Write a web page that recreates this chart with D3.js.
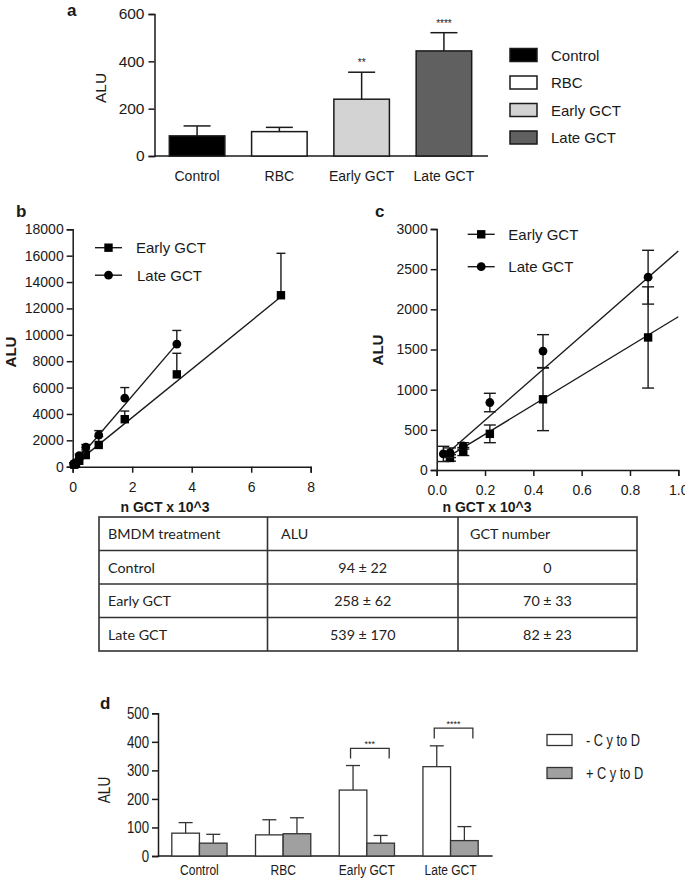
<!DOCTYPE html>
<html><head><meta charset="utf-8">
<script src="https://cdn.jsdelivr.net/npm/d3@7"></script>
<style>
body{margin:0;background:#fff;}
svg{display:block;font-family:"Liberation Sans",Arial,sans-serif;}
</style></head><body>
<svg id="chart" width="685" height="878"></svg>
<script>
// ---------- Panel a ----------
const aCategories = ["Control", "RBC", "Early GCT", "Late GCT"];
const aValues = [85, 103, 240, 444];
const aErrors = [42, 18, 114, 77];
const aColors = ["#000000", "#ffffff", "#d3d3d3", "#606060"];
const aStars = ["", "", "**", "****"];
const aTicks = [0, 200, 400, 600];

// ---------- Panels b and c ----------
const seriesNames = ["Early GCT", "Late GCT"];
const earlyX = [0.055, 0.11, 0.22, 0.44, 0.875, 1.75, 3.5, 7];
const earlyY = [150, 230, 450, 880, 1650, 3600, 7000, 13000];
const earlyErr = [40, 50, 110, 390, 630, 620, 1600, 3180];
const lateX = [0.0275, 0.055, 0.11, 0.22, 0.44, 0.875, 1.75, 3.5];
const lateY = [200, 215, 300, 840, 1480, 2400, 5200, 9300];
const lateErr = [95, 60, 40, 115, 205, 335, 800, 1030];
const fitSlopes = [1829, 2634];
const fitIntercepts = [79, 92];
const bXTicks = [0, 2, 4, 6, 8];
const bYTicks = [0, 2000, 4000, 6000, 8000, 10000, 12000, 14000, 16000, 18000];
const cXTicks = [0, 0.2, 0.4, 0.6, 0.8, 1.0];
const cYTicks = [0, 500, 1000, 1500, 2000, 2500, 3000];

// ---------- Table ----------
const tableHeader = ["BMDM treatment", "ALU", "GCT number"];
const tableRows = [
  ["Control", "94 ± 22", "0"],
  ["Early GCT", "258 ± 62", "70 ± 33"],
  ["Late GCT", "539 ± 170", "82 ± 23"]
];

// ---------- Panel d ----------
const dCategories = ["Control", "RBC", "Early GCT", "Late GCT"];
const dSeries = ["- C y to D", "+ C y to D"];
const dMinus = [80, 74, 231, 313];
const dMinusErr = [37, 53, 86, 73];
const dPlus = [45, 78, 45, 54];
const dPlusErr = [31, 56, 27, 49];
const dColors = ["#ffffff", "#a0a0a0"];
const dBracketTop = [null, null, 377, 448];
const dBracketLeg = [null, null, 342, 412];
const dStars = ["", "", "***", "****"];
const dTicks = [0, 100, 200, 300, 400, 500];

const svg = d3.select("#chart");
const ink = "#1a1a1a";
const FONT = "Liberation Sans, Arial, sans-serif";

function panelLabel(t, x, y) {
  svg.append("text").attr("x", x).attr("y", y).attr("font-weight", "bold")
    .attr("font-size", 17).attr("fill", ink).text(t);
}
// narrow (condensed) text helper
function nText(g, x, y, str, size, anchor, sx) {
  return g.append("text").attr("transform", `translate(${x},${y}) scale(${sx || 0.82},1)`)
    .attr("text-anchor", anchor || "start").attr("font-size", size).attr("fill", ink).text(str);
}

// ================= Panel a =================
{
  const y = d3.scaleLinear().domain([0, 600]).range([156, 14]);
  const x = d3.scaleBand().domain(aCategories).range([154.5, 486.5]).paddingInner(0.325).paddingOuter(0.18);
  const g = svg.append("g");
  g.append("g").attr("transform", "translate(154.5,0)")
    .call(d3.axisLeft(y).tickValues(aTicks).tickSize(6).tickPadding(4))
    .call(s => { s.select(".domain").attr("stroke", ink).attr("stroke-width", 1.5);
      s.selectAll(".tick line").attr("stroke", ink).attr("stroke-width", 1.5);
      s.selectAll("text").attr("font-size", 15.5).attr("fill", ink).attr("font-family", FONT); });
  g.append("line").attr("x1", 154.5).attr("x2", 488).attr("y1", y(0)).attr("y2", y(0)).attr("stroke", ink).attr("stroke-width", 1.5);
  aCategories.forEach((c, i) => {
    const cx = x(c) + x.bandwidth() / 2;
    g.append("line").attr("x1", cx).attr("x2", cx).attr("y1", y(aValues[i])).attr("y2", y(aValues[i] + aErrors[i])).attr("stroke", ink).attr("stroke-width", 1.5);
    g.append("line").attr("x1", cx - 13.5).attr("x2", cx + 13.5).attr("y1", y(aValues[i] + aErrors[i])).attr("y2", y(aValues[i] + aErrors[i])).attr("stroke", ink).attr("stroke-width", 1.5);
    g.append("rect").attr("x", x(c)).attr("y", y(aValues[i])).attr("width", x.bandwidth()).attr("height", y(0) - y(aValues[i]))
      .attr("fill", aColors[i]).attr("stroke", ink).attr("stroke-width", 1.5);
    if (aStars[i]) g.append("text").attr("x", cx).attr("y", y(aValues[i] + aErrors[i]) - 6).attr("text-anchor", "middle")
      .attr("font-size", 10).attr("fill", ink).text(aStars[i]);
    g.append("text").attr("x", cx).attr("y", 181).attr("text-anchor", "middle").attr("font-size", 14).attr("fill", ink).text(c);
  });
  g.append("text").attr("transform", "translate(106,88) rotate(-90)").attr("text-anchor", "middle").attr("font-size", 15.5).attr("fill", ink).text("ALU");
  aCategories.forEach((c, i) => {
    const ly = 55 + i * 27.5;
    g.append("rect").attr("x", 510).attr("y", ly - 6.5).attr("width", 27).attr("height", 13).attr("fill", aColors[i]).attr("stroke", ink).attr("stroke-width", 1.5);
    g.append("text").attr("x", 551).attr("y", ly + 5.5).attr("font-size", 15).attr("fill", ink).text(c);
  });
  panelLabel("a", 67, 16);
}

// ================= Panels b & c =================
function drawMarker(g, kind, cx, cy) {
  if (kind === 0) g.append("rect").attr("x", cx - 4.2).attr("y", cy - 4.2).attr("width", 8.4).attr("height", 8.4).attr("fill", "#000");
  else g.append("circle").attr("cx", cx).attr("cy", cy).attr("r", 4.4).attr("fill", "#000");
}
function scatterPanel(opts) {
  const { x, y, xTicks, yTicks, xFmt, bothErr, capW, xMaxLine, leg } = opts;
  const g = svg.append("g");
  const x0 = x.range()[0], y0 = y.range()[0];
  g.append("g").attr("transform", `translate(${x0},0)`)
    .call(d3.axisLeft(y).tickValues(yTicks).tickSize(6).tickPadding(3).tickFormat(d3.format("d")))
    .call(s => { s.select(".domain").attr("stroke", ink).attr("stroke-width", 1.5);
      s.selectAll(".tick line").attr("stroke", ink).attr("stroke-width", 1.5);
      s.selectAll("text").attr("font-size", 14).attr("fill", ink).attr("font-family", FONT); });
  g.append("g").attr("transform", `translate(0,${y0})`)
    .call(d3.axisBottom(x).tickValues(xTicks).tickSize(6).tickPadding(9).tickFormat(xFmt))
    .call(s => { s.select(".domain").attr("stroke", ink).attr("stroke-width", 1.5);
      s.selectAll(".tick line").attr("stroke", ink).attr("stroke-width", 1.5);
      s.selectAll("text").attr("font-size", 14).attr("fill", ink).attr("font-family", FONT); });
  const xs = [earlyX, lateX], ys = [earlyY, lateY], es = [earlyErr, lateErr];
  const xd1 = x.domain()[1], yd1 = y.domain()[1];
  [0, 1].forEach(k => {
    const xmin = d3.min(xs[k]);
    const xmax = Math.min(xMaxLine === null ? d3.max(xs[k]) : xMaxLine, xd1);
    g.append("line").attr("x1", x(xmin)).attr("y1", y(fitIntercepts[k] + fitSlopes[k] * xmin))
      .attr("x2", x(xmax)).attr("y2", y(fitIntercepts[k] + fitSlopes[k] * xmax))
      .attr("stroke", ink).attr("stroke-width", 1.4);
    xs[k].forEach((xv, i) => {
      if (xv > xd1 || ys[k][i] > yd1) return;
      const cx = x(xv), hi = ys[k][i] + es[k][i], lo = bothErr ? ys[k][i] - es[k][i] : ys[k][i];
      g.append("line").attr("x1", cx).attr("x2", cx).attr("y1", y(lo)).attr("y2", y(hi)).attr("stroke", ink).attr("stroke-width", 1.4);
      g.append("line").attr("x1", cx - capW / 2).attr("x2", cx + capW / 2).attr("y1", y(hi)).attr("y2", y(hi)).attr("stroke", ink).attr("stroke-width", 1.4);
      if (bothErr) g.append("line").attr("x1", cx - capW / 2).attr("x2", cx + capW / 2).attr("y1", y(lo)).attr("y2", y(lo)).attr("stroke", ink).attr("stroke-width", 1.4);
      drawMarker(g, k, cx, y(ys[k][i]));
    });
  });
  seriesNames.forEach((s, k) => {
    const ly = leg.y + k * leg.dy;
    g.append("line").attr("x1", leg.x).attr("x2", leg.x + 27).attr("y1", ly).attr("y2", ly).attr("stroke", ink).attr("stroke-width", 1.4);
    drawMarker(g, k, leg.x + 13.5, ly);
    g.append("text").attr("x", leg.tx + k * leg.tdx).attr("y", ly + 5.5).attr("font-size", 15).attr("fill", ink).text(s);
  });
  g.append("text").attr("transform", `translate(${opts.ylx},${opts.yly}) rotate(-90)`).attr("text-anchor", "middle")
    .attr("font-size", 15).attr("font-weight", "bold").attr("fill", ink).text("ALU");
  g.append("text").attr("x", opts.xlx).attr("y", 512).attr("text-anchor", "middle")
    .attr("font-size", 14).attr("font-weight", "bold").attr("fill", ink).text("n GCT x 10^3");
}
{
  const x = d3.scaleLinear().domain([0, 8]).range([72.7, 310.7]);
  const y = d3.scaleLinear().domain([0, 18000]).range([466.7, 229.3]);
  scatterPanel({ x, y, xTicks: bXTicks, yTicks: bYTicks, xFmt: d3.format("d"), bothErr: false, capW: 9, xMaxLine: null,
    leg: { x: 95, y: 247.7, dy: 27.5, tx: 136, tdx: 1 }, ylx: 16, yly: 352, xlx: 165 });
  panelLabel("b", 16, 217);
}
{
  const x = d3.scaleLinear().domain([0, 1]).range([436.7, 678.3]);
  const y = d3.scaleLinear().domain([0, 3000]).range([470, 229]);
  scatterPanel({ x, y, xTicks: cXTicks, yTicks: cYTicks, xFmt: d3.format(".1f"), bothErr: true, capW: 12, xMaxLine: 1.0,
    leg: { x: 467.7, y: 234.3, dy: 32.4, tx: 508.3, tdx: 0 }, ylx: 383, yly: 350, xlx: 487 });
  panelLabel("c", 375, 217);
}

// ================= Table =================
{
  const colX = [99, 267.5, 458, 637];
  const rowY = [517, 550.5, 584, 617.5, 651];
  const g = svg.append("g").attr("font-family", "Lato, 'Open Sans', sans-serif").attr("font-size", 14.3).attr("fill", "#222");
  g.append("rect").attr("x", colX[0]).attr("y", rowY[0]).attr("width", colX[3] - colX[0]).attr("height", rowY[4] - rowY[0])
    .attr("fill", "none").attr("stroke", "#333").attr("stroke-width", 1.6);
  rowY.slice(1, 4).forEach(ry => g.append("line").attr("x1", colX[0]).attr("x2", colX[3]).attr("y1", ry).attr("y2", ry).attr("stroke", "#333").attr("stroke-width", 1.6));
  colX.slice(1, 3).forEach(cx => g.append("line").attr("x1", cx).attr("x2", cx).attr("y1", rowY[0]).attr("y2", rowY[4]).attr("stroke", "#333").attr("stroke-width", 1.6));
  const hx = [108, 281, 470];
  tableHeader.forEach((h, j) => g.append("text").attr("x", hx[j]).attr("y", (rowY[0] + rowY[1]) / 2 + 5.5).text(h));
  tableRows.forEach((r, i) => {
    const cy = (rowY[i + 1] + rowY[i + 2]) / 2 + 5.5;
    g.append("text").attr("x", 108).attr("y", cy).text(r[0]);
    g.append("text").attr("x", (colX[1] + colX[2]) / 2).attr("y", cy).attr("text-anchor", "middle").text(r[1]);
    g.append("text").attr("x", (colX[2] + colX[3]) / 2).attr("y", cy).attr("text-anchor", "middle").text(r[2]);
  });
}

// ================= Panel d =================
{
  const y = d3.scaleLinear().domain([0, 500]).range([856, 713.3]);
  const x = d3.scaleBand().domain(dCategories).range([158, 492]).paddingInner(0.34).paddingOuter(0.165);
  const xs = d3.scaleBand().domain([0, 1]).range([0, x.bandwidth()]);
  const g = svg.append("g").attr("font-family", FONT);
  g.append("g").attr("transform", "translate(158,0)")
    .call(d3.axisLeft(y).tickValues(dTicks).tickSize(6).tickPadding(3).tickFormat(() => ""))
    .call(s => { s.select(".domain").attr("stroke", ink).attr("stroke-width", 1.5);
      s.selectAll(".tick line").attr("stroke", ink).attr("stroke-width", 1.5); });
  dTicks.forEach(t => nText(g, 149, y(t) + 5.8, String(t), 16.5, "end", 0.8));
  g.append("line").attr("x1", 158).attr("x2", 492.6).attr("y1", y(0)).attr("y2", y(0)).attr("stroke", ink).attr("stroke-width", 1.5);
  const vals = [dMinus, dPlus], errs = [dMinusErr, dPlusErr];
  dCategories.forEach((c, i) => {
    [0, 1].forEach(k => {
      const bx = x(c) + xs(k), cx = bx + xs.bandwidth() / 2;
      const top = vals[k][i] + errs[k][i];
      g.append("line").attr("x1", cx).attr("x2", cx).attr("y1", y(vals[k][i])).attr("y2", y(top)).attr("stroke", "#333").attr("stroke-width", 1.3);
      g.append("line").attr("x1", cx - 7).attr("x2", cx + 7).attr("y1", y(top)).attr("y2", y(top)).attr("stroke", "#333").attr("stroke-width", 1.3);
      g.append("rect").attr("x", bx).attr("y", y(vals[k][i])).attr("width", xs.bandwidth()).attr("height", y(0) - y(vals[k][i]))
        .attr("fill", dColors[k]).attr("stroke", "#333").attr("stroke-width", 1.3);
    });
    if (dBracketTop[i] !== null) {
      const l = x(c) + xs(0) + xs.bandwidth() / 2 - 2.5, r = x(c) + xs(1) + xs.bandwidth() / 2 + 8.5;
      g.append("path").attr("d", `M${l},${y(dBracketLeg[i])}V${y(dBracketTop[i])}H${r}V${y(dBracketLeg[i])}`)
        .attr("fill", "none").attr("stroke", "#333").attr("stroke-width", 1.3);
      g.append("text").attr("x", (l + r) / 2).attr("y", y(dBracketTop[i]) - 1).attr("text-anchor", "middle").attr("font-size", 9).attr("fill", ink).text(dStars[i]);
    }
    nText(g, x(c) + x.bandwidth() / 2, 875, c, 15, "middle", 0.8);
  });
  g.append("text").attr("transform", "translate(110,790) rotate(-90) scale(0.85,1)").attr("text-anchor", "middle").attr("font-size", 16).attr("fill", ink).text("ALU");
  dSeries.forEach((s, k) => {
    const ly = 740 + k * 33;
    g.append("rect").attr("x", 547).attr("y", ly - 5.5).attr("width", 25).attr("height", 11).attr("fill", dColors[k]).attr("stroke", "#333").attr("stroke-width", 1.3);
    nText(g, 586, ly + 5.5, s, 16, "start", 0.8);
  });
  svg.append("text").attr("x", 100).attr("y", 709).attr("font-weight", "bold").attr("font-size", 17).attr("fill", ink).text("d");
}
</script>
</body></html>
